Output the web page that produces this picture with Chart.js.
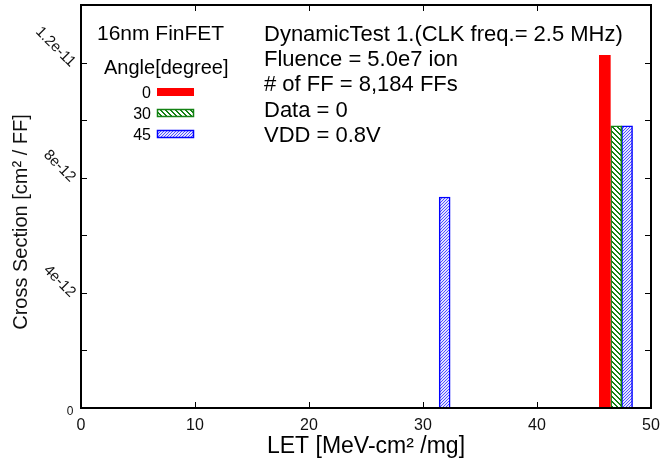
<!DOCTYPE html>
<html>
<head>
<meta charset="utf-8">
<script src="https://cdn.jsdelivr.net/npm/chart.js@4.4.1/dist/chart.umd.min.js"></script>
<style>
  html, body { margin: 0; padding: 0; background: #fff; }
</style>
</head>
<body>
<canvas id="crossSectionChart" width="662" height="464"></canvas>
<script>
// LET [MeV-cm2/mg] and cross section [cm2/FF], one pair of arrays per tilt angle
const angleLabels = ['0', '30', '45'];
const letAngle0 = [45.95];
const xsAngle0 = [1.225e-11];
const letAngle30 = [46.95];
const xsAngle30 = [9.8e-12];
const letAngle45 = [31.9, 47.9];
const xsAngle45 = [7.33e-12, 9.8e-12];

const xTicks = [0, 10, 20, 30, 40, 50];
const yTickValues = [0, 4e-12, 8e-12, 1.2e-11];
const yTickLabels = ['0', '4e-12', '8e-12', '1.2e-11'];

const deviceNote = '16nm FinFET';
const legendTitle = 'Angle[degree]';
const testNotes = [
  'DynamicTest 1.(CLK freq.= 2.5 MHz)',
  'Fluence = 5.0e7 ion',
  '# of FF = 8,184 FFs',
  'Data = 0',
  'VDD = 0.8V'
];

const FONT = '"Liberation Sans", Arial, Helvetica, sans-serif';

function toPoints(xs, ys) {
  return xs.map((x, i) => ({ x: x, y: ys[i] }));
}

// small tile for hatched bars; dir 1 = "\" stripes, -1 = "/" stripes
function makeHatch(fg, bg, size, dir, width) {
  const c = document.createElement('canvas');
  c.width = size;
  c.height = size;
  const g = c.getContext('2d');
  const img = g.createImageData(size, size);
  for (let y = 0; y < size; y++) {
    for (let x = 0; x < size; x++) {
      const k = dir > 0 ? (x - y + size * 4) % size : (x + y) % size;
      const col = k < width ? fg : bg;
      const p = (y * size + x) * 4;
      img.data[p] = col[0];
      img.data[p + 1] = col[1];
      img.data[p + 2] = col[2];
      img.data[p + 3] = 255;
    }
  }
  g.putImageData(img, 0, 0);
  return document.createElement('canvas').getContext('2d').createPattern(c, 'repeat');
}

const greenHatch = makeHatch([20, 130, 20], [255, 255, 255], 5, 1, 2);
const blueHatch = makeHatch([80, 80, 255], [228, 228, 255], 3, -1, 1);

const decorations = {
  id: 'decorations',
  afterDraw(chart) {
    const ctx = chart.ctx;
    const a = chart.chartArea;
    const xs = chart.scales.x;
    const ys = chart.scales.y;
    ctx.save();

    // frame and inward ticks on all sides
    ctx.strokeStyle = '#000';
    ctx.lineWidth = 2;
    ctx.strokeRect(a.left, a.top, a.right - a.left, a.bottom - a.top);
    ctx.lineWidth = 1;
    ctx.beginPath();
    xs.ticks.forEach(t => {
      const px = Math.round(xs.getPixelForValue(t.value)) + 0.5;
      if (px <= a.left + 2 || px >= a.right - 2) return;
      ctx.moveTo(px, a.bottom); ctx.lineTo(px, a.bottom - 6);
      ctx.moveTo(px, a.top); ctx.lineTo(px, a.top + 6);
    });
    ys.ticks.forEach(t => {
      const py = Math.round(ys.getPixelForValue(t.value)) + 0.5;
      if (py <= a.top + 2 || py >= a.bottom - 2) return;
      ctx.moveTo(a.left, py); ctx.lineTo(a.left + 6, py);
      ctx.moveTo(a.right, py); ctx.lineTo(a.right - 6, py);
    });
    ctx.stroke();

    // slanted y tick labels
    ctx.fillStyle = '#111';
    yTickValues.forEach((v, i) => {
      const py = ys.getPixelForValue(v);
      if (v === 0) {
        ctx.font = '12px ' + FONT;
        ctx.textAlign = 'center';
        ctx.textBaseline = 'middle';
        ctx.fillText(yTickLabels[i], 70, py + 4);
        return;
      }
      ctx.save();
      ctx.translate(73, py + 2);
      ctx.rotate(Math.PI / 4);
      ctx.font = '15px ' + FONT;
      ctx.textAlign = 'right';
      ctx.textBaseline = 'middle';
      ctx.fillText(yTickLabels[i], 0, 0);
      ctx.restore();
    });

    // y axis title
    ctx.save();
    ctx.translate(21, 222);
    ctx.rotate(-Math.PI / 2);
    ctx.font = '20px ' + FONT;
    ctx.textAlign = 'center';
    ctx.textBaseline = 'middle';
    ctx.fillText('Cross Section [cm\u00B2 / FF]', 0, 0);
    ctx.restore();

    // notes
    ctx.fillStyle = '#000';
    ctx.textAlign = 'left';
    ctx.textBaseline = 'alphabetic';
    ctx.font = '21px ' + FONT;
    ctx.fillText(deviceNote, 97, 40);
    ctx.font = '22px ' + FONT;
    testNotes.forEach((s, i) => ctx.fillText(s, 264, 41 + i * 25.2));
    ctx.font = '20px ' + FONT;
    ctx.fillText(legendTitle, 104, 74);

    // legend entries
    const rows = [88, 109, 130];
    chart.data.datasets.forEach((ds, i) => {
      ctx.font = '16px ' + FONT;
      ctx.textAlign = 'right';
      ctx.fillStyle = '#000';
      ctx.fillText(ds.label, 151, rows[i] + 10);
      ctx.fillStyle = ds.backgroundColor;
      ctx.fillRect(157, rows[i], 37, 8);
      if (ds.borderWidth) {
        ctx.strokeStyle = ds.borderColor;
        ctx.lineWidth = 1.5;
        ctx.strokeRect(157.5, rows[i] + 0.5, 36, 7);
      }
    });
    ctx.restore();
  }
};

new Chart(document.getElementById('crossSectionChart'), {
  type: 'bar',
  data: {
    datasets: [{
      label: angleLabels[0],
      data: toPoints(letAngle0, xsAngle0),
      backgroundColor: 'rgb(255, 0, 0)',
      borderWidth: 0
    }, {
      label: angleLabels[1],
      data: toPoints(letAngle30, xsAngle30),
      backgroundColor: greenHatch,
      borderColor: 'rgb(20, 130, 20)',
      borderWidth: 1.5
    }, {
      label: angleLabels[2],
      data: toPoints(letAngle45, xsAngle45),
      backgroundColor: blueHatch,
      borderColor: 'rgb(0, 0, 255)',
      borderWidth: 1.5
    }]
  },
  options: {
    responsive: false,
    animation: false,
    devicePixelRatio: 1,
    layout: { padding: { left: 0, right: 11, top: 5, bottom: 0 } },
    datasets: { bar: { grouped: false, barThickness: 11, borderSkipped: 'bottom' } },
    plugins: { legend: { display: false }, tooltip: { enabled: false } },
    scales: {
      x: {
        type: 'linear',
        offset: false,
        min: 0,
        max: 50,
        afterBuildTicks: s => { s.ticks = xTicks.map(v => ({ value: v })); },
        afterFit: s => { s.height = 56; s.paddingLeft = 0; s.paddingRight = 0; },
        grid: { display: false, drawTicks: false, offset: false },
        border: { display: false },
        ticks: { padding: 8, color: '#111', font: { family: FONT, size: 16 }, maxRotation: 0 },
        title: {
          display: true,
          text: 'LET [MeV-cm\u00B2 /mg]',
          color: '#000',
          font: { family: FONT, size: 23 },
          padding: { top: 2, bottom: 4 }
        }
      },
      y: {
        min: 0,
        max: 1.4e-11,
        ticks: { display: false, stepSize: 2e-12 },
        afterFit: s => { s.width = 81; },
        grid: { display: false, drawTicks: false },
        border: { display: false }
      }
    }
  },
  plugins: [decorations]
});
</script>
</body>
</html>
